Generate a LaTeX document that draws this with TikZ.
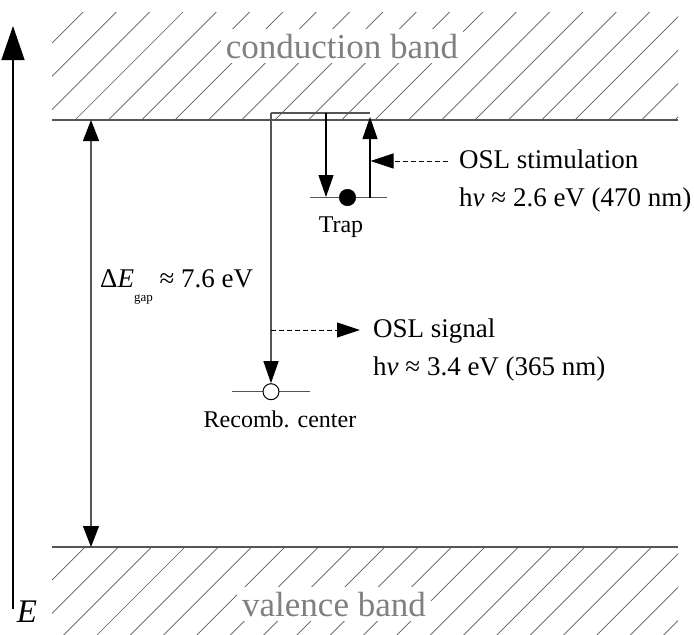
\documentclass[tikz,border=0pt]{standalone}
\usepackage{fontspec}
\setmainfont{Liberation Serif}
\usetikzlibrary{arrows.meta}
\definecolor{bandgray}{RGB}{128,128,128}
\definecolor{linegray}{RGB}{85,85,85}
\definecolor{hatchgray}{RGB}{90,90,90}
\tikzset{
  hatch/.style={draw=hatchgray, line width=0.7pt},
  bandline/.style={draw=linegray, line width=1.1pt},
  levelline/.style={draw=linegray, line width=1.1pt},
  bandlabel/.style={fill=white, text=bandgray, inner sep=5pt, font=\fontsize{35}{40}\selectfont},
  lbl/.style={inner sep=0pt, font=\fontsize{27}{32}\selectfont},
  smalllbl/.style={inner sep=0pt, font=\fontsize{24}{28}\selectfont},
  axisarrow/.style={draw=black, line width=1.3pt, -{Triangle[length=34pt,width=23pt]}},
  gaparrow/.style={draw=linegray, line width=1.1pt, {Triangle[length=21pt,width=16pt,color=black]}-{Triangle[length=21pt,width=16pt,color=black]}},
  trarrow/.style={draw=black, line width=1.1pt, -{Triangle[length=22pt,width=15pt]}},
  dasharrow/.style={draw=black, line width=1pt, dash pattern=on 5pt off 3pt, -{Triangle[length=23pt,width=15pt]}},
  filleddot/.style={circle, fill=black, draw=black, minimum size=16.6pt, inner sep=0pt},
  opendot/.style={circle, fill=white, draw=black, line width=1pt, minimum size=16pt, inner sep=0pt}
}
\begin{document}
\begin{tikzpicture}[x=1pt,y=-1pt]
\useasboundingbox (0,0) rectangle (694,635);
% hatching of the conduction band
\begin{scope}
  \clip (52,12) rectangle (678,120);
  \foreach \k in {-4,...,19} {\draw[hatch] ({75+33.33*\k},120) -- ({183+33.33*\k},12);}
\end{scope}
% hatching of the valence band
\begin{scope}
  \clip (52,547) rectangle (678,635);
  \foreach \k in {-1,...,22} {\draw[hatch] ({85+33.33*\k},547) -- ({-3+33.33*\k},635);}
\end{scope}
% band labels
\node[bandlabel, anchor=base] (cblabel) at (342,58) {conduction band};
\node[bandlabel, anchor=base] (vblabel) at (334,616) {valence band};
% band edges
\coordinate (cbL) at (52,120);
\coordinate (cbR) at (678,120);
\coordinate (vbL) at (52,547);
\coordinate (vbR) at (678,547);
\draw[bandline] (cbL) -- (cbR);
\draw[bandline] (vbL) -- (vbR);
% energy axis
\coordinate (Ebot) at (13,609);
\coordinate (Etop) at (13,26);
\draw[axisarrow] (Ebot) -- (Etop);
\node[inner sep=0pt, anchor=base, font=\fontsize{33}{36}\selectfont] (Elabel) at (27,622) {\textit{E}};
% band gap
\coordinate (gapT) at (91,120);
\coordinate (gapB) at (91,547);
\draw[gaparrow] (gapB) -- (gapT);
\node[lbl, anchor=base west] (gaplabel) at (100,287) {Δ\textit{E}\raisebox{-0.55em}{\fontsize{13}{13}\selectfont gap} ≈ 7.6 eV};
% trap
\coordinate (trapL) at (310,197.5);
\coordinate (trapR) at (387,197.5);
\draw[levelline] (trapL) -- (trapR);
\node[filleddot] (trapdot) at (347.5,197.5) {};
\node[smalllbl, anchor=base] (traplabel) at (341,232) {Trap};
% transitions
\coordinate (boxL) at (271,113);
\coordinate (boxM) at (326,113);
\coordinate (boxR) at (370,113);
\coordinate (downTip) at (326,197);
\coordinate (upBase) at (370,197.5);
\coordinate (upTip) at (370,117);
\draw[draw=linegray, line width=1.1pt] (boxL) -- (boxR);
\draw[trarrow] (boxM) -- (downTip);
\draw[trarrow] (upBase) -- (upTip);
% recombination center
\coordinate (recL) at (232,391.7);
\coordinate (recR) at (310,391.7);
\draw[levelline] (recL) -- (recR);
\node[opendot] (recdot) at (271,391.7) {};
\draw[draw=linegray, line width=1.1pt, -{Triangle[length=22pt,width=15pt,color=black]}] (boxL) -- (recdot.north);
\node[smalllbl, anchor=base] (reclabel) at (280,427) {Recomb. center};
% OSL stimulation
\coordinate (stimStart) at (448,161);
\coordinate (stimTip) at (370.5,161);
\draw[dasharrow] (stimStart) -- (stimTip);
\node[lbl, anchor=base west] (stim1) at (459,168) {OSL stimulation};
\node[lbl, anchor=base west] (stim2) at (459,206) {h\textit{ν} ≈ 2.6 eV (470 nm)};
% OSL signal
\coordinate (sigStart) at (271,330);
\coordinate (sigTip) at (360,330);
\draw[dasharrow] (sigStart) -- (sigTip);
\node[lbl, anchor=base west] (sig1) at (373,337) {OSL signal};
\node[lbl, anchor=base west] (sig2) at (373,375) {h\textit{ν} ≈ 3.4 eV (365 nm)};
\end{tikzpicture}
\end{document}
